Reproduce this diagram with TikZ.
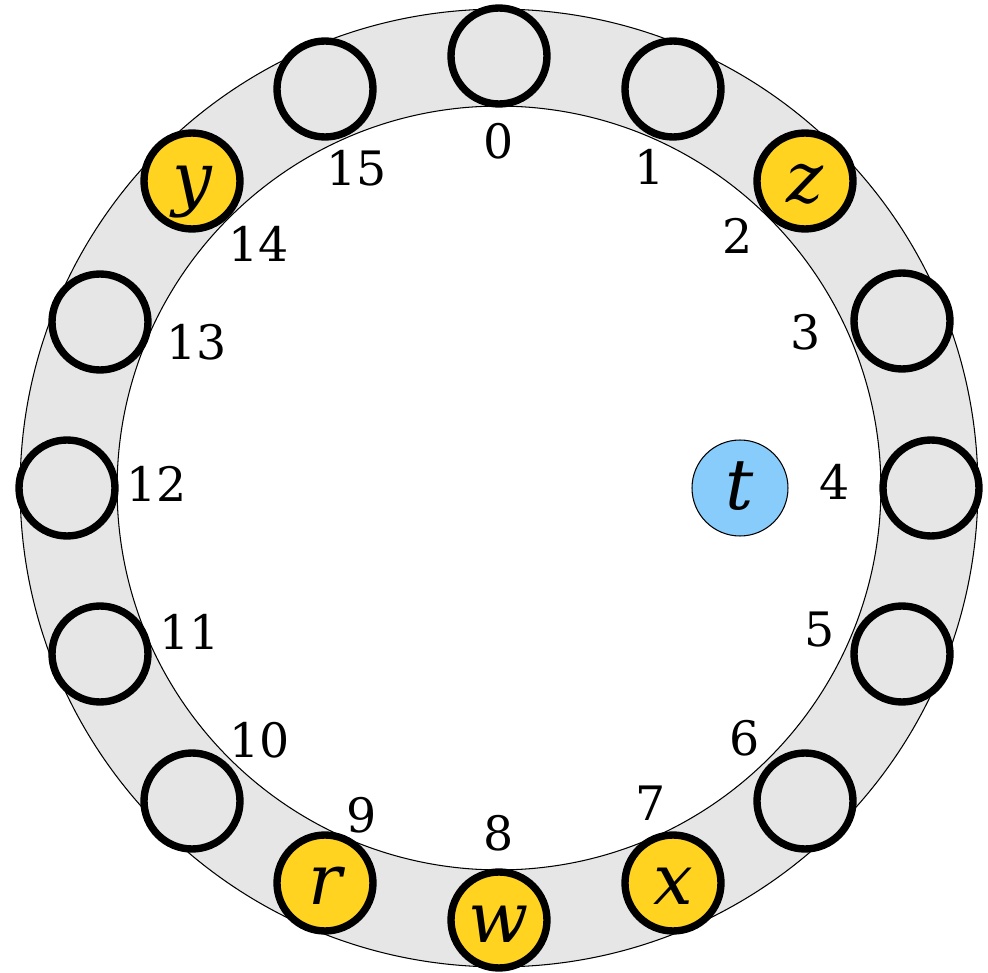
\documentclass[tikz,border=0pt]{standalone}
\usepackage{fontspec}
\setmainfont{DejaVu Serif}
\newfontfamily\keyfont{DejaVu Serif Italic}

\definecolor{ringgray}{RGB}{230,230,230}
\definecolor{slotyellow}{RGB}{255,211,32}
\definecolor{keyblue}{RGB}{135,204,250}

\tikzstyle{slot}=[circle,draw,line width=4.2pt,fill=ringgray,minimum size=1.92cm,inner sep=0pt,
  font=\keyfont\fontsize{40}{44}\selectfont,text height=0.88cm,text depth=0pt]
\tikzstyle{key}=[slot,fill=slotyellow]
\tikzstyle{idx}=[font=\fontsize{27}{30}\selectfont,inner sep=0pt]

\begin{document}
\begin{tikzpicture}[x=0.02cm,y=-0.02cm]
\useasboundingbox (0,0) rectangle (988,973);

\coordinate (c) at (499,488);

% the ring
\fill[ringgray,even odd rule] (c) circle (9.58cm) (c) circle (7.64cm);
\draw[line width=0.6pt] (c) circle (9.58cm);
\draw[line width=0.6pt] (c) circle (7.64cm);

% slots on the ring
\foreach \i/\x/\y/\s/\t in {0/499/56/slot/{}, 1/673/89/slot/{}, 2/805/181/key/z,
  3/902/321/slot/{}, 4/931/488/slot/{}, 5/902/654/slot/{}, 6/805/801/slot/{},
  7/673/883/key/x, 8/499/920/key/w, 9/325/883/key/r, 10/192/801/slot/{},
  11/100/654/slot/{}, 12/67/488/slot/{}, 13/100/322/slot/{}, 14/192/181/key/y,
  15/325/89/slot/{}}
  \node[\s] (n\i) at (\x,\y) {\t};

% indices
\foreach \i/\x/\y in {0/499/141, 1/650/167, 2/738/236, 3/806/332, 4/835/482,
  5/820/630, 6/745/738, 7/651/803, 8/499/833, 9/362/815, 10/260/740,
  11/190/632, 12/157/484, 13/197/342, 14/259/244, 15/357/168}
  \node[idx] (l\i) at (\x,\y) {\i};

\node[slot,fill=keyblue,line width=0.6pt] (t) at (740,488) {t};

\end{tikzpicture}
\end{document}
